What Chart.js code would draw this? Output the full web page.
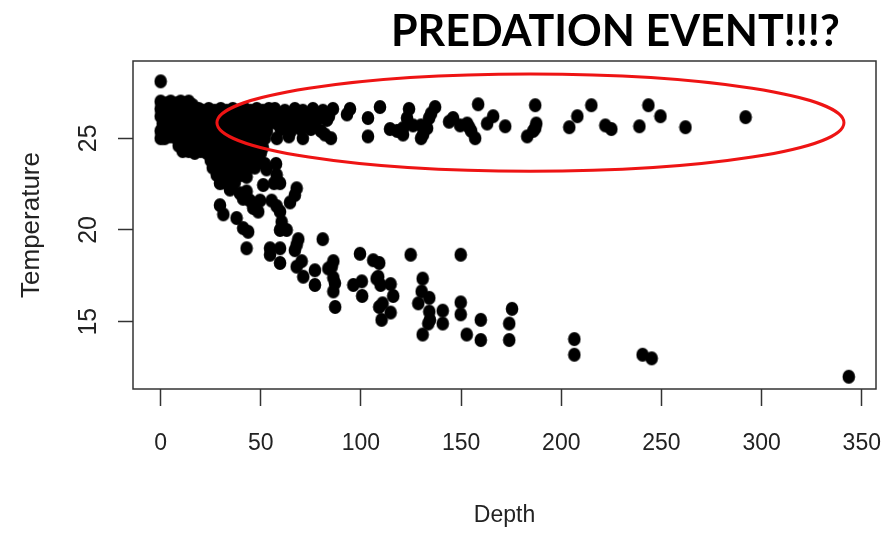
<!DOCTYPE html>
<html>
<head>
<meta charset="utf-8">
<title>Temperature vs depth</title>
<script src="https://cdn.jsdelivr.net/npm/chart.js@4.4.1/dist/chart.umd.min.js"></script>
<style>
  html, body { margin: 0; padding: 0; background: #fff; }
  canvas { display: block; }
</style>
</head>
<body>
<canvas id="plot" width="884" height="534"></canvas>
<script>
// axis limits and ticks (R-style 4% padding around the data)
const depthRange = [-13.8, 357.1];
const tempRange = [11.33, 29.21];
const depthTicks = [0, 50, 100, 150, 200, 250, 300, 350];
const tempTicks = [15, 20, 25];

// [depth, temperature] — surface mixed layer, 0-55 m
const mixedLayer = [
  [0, 28.1],
  [0, 27.0], [3, 26.9], [5, 27.0], [8, 26.9], [10, 27.0], [12, 26.9], [14, 27.0], [16, 26.8],
  [0, 26.6], [2, 26.5], [5, 26.6], [7, 26.7], [10, 26.5], [13, 26.6], [16, 26.5], [19, 26.6], [21, 26.5], [24, 26.6],
  [27, 26.5], [30, 26.6], [33, 26.5], [36, 26.6], [39, 26.5], [42, 26.6], [45, 26.5], [48, 26.6], [51, 26.5], [54, 26.6],
  [0, 26.2], [3, 26.1], [6, 26.2], [9, 26.2], [11, 26.1], [14, 26.2], [17, 26.2], [20, 26.1], [23, 26.2], [26, 26.2],
  [29, 26.1], [32, 26.2], [35, 26.2], [38, 26.1], [41, 26.2], [44, 26.2], [47, 26.1], [50, 26.2], [53, 26.2], [55, 26.1],
  [1, 25.8], [4, 25.8], [7, 25.7], [10, 25.8], [13, 25.8], [15, 25.7], [18, 25.8], [21, 25.8], [24, 25.7], [27, 25.8],
  [30, 25.8], [33, 25.7], [36, 25.8], [39, 25.8], [42, 25.7], [45, 25.8], [48, 25.8], [51, 25.7], [54, 25.8],
  [0, 25.4], [3, 25.4], [6, 25.3], [8, 25.4], [11, 25.4], [14, 25.3], [17, 25.4], [20, 25.4], [23, 25.3], [26, 25.4],
  [29, 25.4], [32, 25.3], [35, 25.4], [38, 25.4], [41, 25.3], [44, 25.4], [47, 25.4], [50, 25.3], [53, 25.4],
  [0, 25.0], [2, 25.0], [5, 25.1], [8, 25.0], [11, 25.0], [14, 24.9], [17, 25.0], [20, 25.0], [23, 24.9], [26, 25.0],
  [29, 25.0], [32, 24.9], [35, 25.0], [38, 25.0], [41, 24.9], [44, 25.0], [47, 25.0], [50, 24.9], [52, 25.0],
  [9, 24.6], [12, 24.6], [15, 24.5], [18, 24.6], [21, 24.6], [24, 24.5], [27, 24.6], [30, 24.6], [33, 24.5],
  [36, 24.6], [39, 24.6], [42, 24.5], [45, 24.6], [48, 24.6], [51, 24.5],
  [11, 24.3], [14, 24.3], [17, 24.2], [20, 24.3], [23, 24.2], [26, 24.1], [29, 24.2], [32, 24.2], [35, 24.1],
  [38, 24.2], [41, 24.2], [44, 24.1], [47, 24.2], [50, 24.2],
  [25, 23.8], [28, 23.8], [31, 23.7], [34, 23.8], [37, 23.8], [40, 23.7], [43, 23.8], [46, 23.8], [49, 23.7], [52, 23.6],
  [26, 23.4], [29, 23.4], [32, 23.3], [35, 23.4], [38, 23.4], [41, 23.3], [44, 23.4], [47, 23.4],
  [28, 23.0], [31, 23.0], [34, 22.9], [37, 23.0], [40, 23.0],
  [31, 22.6], [34, 22.5], [37, 22.6]
];

// warm water found deeper than the mixed layer
const warmBand = [
  [57, 26.6], [62, 26.5], [67, 26.6], [71, 26.5], [76, 26.6], [81, 26.5], [86, 26.6],
  [59, 26.2], [64, 26.2], [69, 26.1], [74, 26.2], [79, 26.1], [84, 26.2],
  [58, 25.8], [63, 25.9], [68, 25.8], [72, 25.8], [77, 25.9], [83, 26.0],
  [60, 25.5], [65, 25.4], [70, 25.5], [75, 25.5], [80, 25.4],
  [58, 25.0], [64, 25.1], [71, 25.0], [82, 25.2], [85, 25.0],
  [93, 26.3], [94.5, 26.6], [103.5, 26.1], [103.5, 25.1], [109.5, 26.7], [114.5, 25.5], [118, 25.4],
  [121, 25.2], [121, 25.55], [123, 26.1], [124, 26.6], [126, 25.7], [130, 25.7], [130, 25.0], [131, 25.2],
  [133, 25.55], [134, 26.1], [135, 26.35], [137, 26.7],
  [144, 25.9], [146, 26.1], [149.5, 25.7], [153, 25.8], [154, 25.6], [155, 25.4], [157, 25.0], [158.5, 26.85],
  [163, 25.8], [166, 26.2], [172, 25.65],
  [183, 25.1], [186, 25.4], [187, 25.55], [187.5, 25.8], [187, 26.8],
  [204, 25.6], [208, 26.2], [215, 26.8], [222, 25.7], [225, 25.5], [239, 25.65], [243.5, 26.8], [249.5, 26.2],
  [262, 25.6], [292, 26.15]
];

// thermocline: temperature falling with depth
const thermocline = [
  [52.9, 23.3], [51.2, 22.45], [57.6, 23.6], [57.9, 23.0], [56.6, 22.55], [59.6, 22.55], [42.9, 22.9],
  [35.4, 22.4], [29.6, 22.55], [34.6, 22.2], [39.6, 22.0], [42.9, 22.1], [41.2, 21.7], [44.6, 21.6],
  [49.6, 21.6], [46.2, 21.2], [48.7, 21.0], [29.6, 21.35], [31.3, 20.85], [37.9, 20.65], [41.2, 20.1], [43.7, 19.9],
  [67.9, 22.27], [67.0, 21.9], [64.6, 21.5], [55.4, 21.6], [57.9, 21.3], [59.6, 21.0], [60.4, 20.45],
  [59.6, 20.0], [62.9, 20.0],
  [68.7, 19.5], [67.9, 19.2], [67.0, 18.9], [80.9, 19.5], [42.9, 19.0], [54.6, 19.0], [59.6, 19.0],
  [54.6, 18.65], [59.6, 18.2], [70.4, 18.3], [67.9, 18.0], [71.2, 17.45], [77.0, 17.8], [77.0, 17.0],
  [86.2, 18.3], [85.4, 18.0], [83.7, 17.9], [86.2, 17.4], [87.0, 17.1], [86.2, 16.65], [87.1, 15.8],
  [99.5, 18.7], [106.1, 18.35], [109.1, 18.2], [96.2, 17.0], [100.4, 17.2], [100.6, 16.4], [107.8, 17.35],
  [108.6, 17.45], [109.8, 17.0], [114.8, 17.05], [116.1, 16.4], [109.1, 15.8], [110.8, 16.0], [110.3, 15.1],
  [114.8, 15.5],
  [124.8, 18.65], [149.8, 18.65],
  [130.8, 17.35], [130.3, 16.65], [134.1, 16.3], [128.6, 16.0], [134.1, 15.55], [134.4, 15.1], [133.6, 14.9],
  [130.8, 14.3], [140.8, 15.6], [140.8, 14.9], [149.8, 16.05], [149.8, 15.4], [152.8, 14.3], [159.8, 15.1],
  [159.8, 14.0],
  [175.4, 15.7], [174.0, 14.9], [174.0, 14.0], [206.5, 14.05], [206.5, 13.2], [240.6, 13.2], [245.1, 13.0],
  [343.5, 12.0]
];

// ring drawn round the warm band, in data units
const circled = { depth: 184.6, temp: 25.85, halfDepth: 156.5, halfTemp: 2.65 };
const headline = 'PREDATION EVENT!!!?';

const ink = '#222';
const frame = '#333';
const sans = "'Liberation Sans', Arial, sans-serif";

// filled dot, a little taller than wide
const dot = document.createElement('canvas');
dot.width = 14;
dot.height = 16;
const dctx = dot.getContext('2d');
dctx.fillStyle = '#000';
dctx.beginPath();
dctx.ellipse(7, 8, 6.3, 7.1, 0, 0, Math.PI * 2);
dctx.fill();

const points = [...mixedLayer, ...warmBand, ...thermocline].map(([d, t]) => ({ x: d, y: t }));

const decorations = {
  id: 'decorations',
  afterDatasetsDraw(chart) {
    const { ctx, chartArea: a, scales: { x, y } } = chart;
    ctx.save();

    const cx = x.getPixelForValue(circled.depth);
    const cy = y.getPixelForValue(circled.temp);
    const rx = x.getPixelForValue(circled.depth + circled.halfDepth) - cx;
    const ry = cy - y.getPixelForValue(circled.temp + circled.halfTemp);
    ctx.strokeStyle = '#ee1414';
    ctx.lineWidth = 3;
    ctx.beginPath();
    ctx.ellipse(cx, cy, rx, ry, 0, 0, Math.PI * 2);
    ctx.stroke();

    ctx.strokeStyle = frame;
    ctx.lineWidth = 1.5;
    ctx.strokeRect(a.left, a.top, a.width, a.height);

    ctx.fillStyle = '#000';
    ctx.font = "bold 43px Lato, 'Liberation Sans', sans-serif";
    ctx.textAlign = 'left';
    ctx.textBaseline = 'alphabetic';
    ctx.fillText(headline, 391, 46);
    ctx.restore();
  }
};

new Chart(document.getElementById('plot'), {
  type: 'scatter',
  data: {
    datasets: [{
      label: 'Temperature',
      data: points,
      pointStyle: dot,
      pointRadius: 7,
      pointHoverRadius: 7
    }]
  },
  options: {
    responsive: false,
    animation: false,
    events: [],
    layout: { autoPadding: false, padding: { top: 61, right: 8, bottom: 0, left: 0 } },
    plugins: {
      legend: { display: false },
      tooltip: { enabled: false }
    },
    scales: {
      x: {
        type: 'linear',
        position: 'bottom',
        min: depthRange[0],
        max: depthRange[1],
        afterBuildTicks: s => { s.ticks = depthTicks.map(v => ({ value: v })); },
        afterFit: s => { s.height = 145; s.paddingLeft = 0; s.paddingRight = 0; },
        border: { display: false },
        grid: { drawOnChartArea: false, tickLength: 17, tickColor: frame, tickWidth: 1.5 },
        ticks: { autoSkip: false, maxRotation: 0, padding: 24, color: ink, font: { family: sans, size: 23 } },
        title: { display: true, text: 'Depth', color: ink, font: { family: sans, size: 23 }, padding: { top: 0, bottom: 5 } }
      },
      y: {
        type: 'linear',
        min: tempRange[0],
        max: tempRange[1],
        afterBuildTicks: s => { s.ticks = tempTicks.map(v => ({ value: v })); },
        afterFit: s => { s.width = 133; s.paddingTop = 0; s.paddingBottom = 0; },
        border: { display: false },
        grid: { drawOnChartArea: false, tickLength: 15, tickColor: frame, tickWidth: 1.5 },
        ticks: { autoSkip: false, minRotation: 90, maxRotation: 90, crossAlign: 'center', padding: 15, color: ink, font: { family: sans, size: 25 } },
        title: { display: true, text: 'Temperature', color: ink, font: { family: sans, size: 26 }, padding: { top: 16, bottom: 0 } }
      }
    }
  },
  plugins: [decorations]
});
</script>
</body>
</html>
